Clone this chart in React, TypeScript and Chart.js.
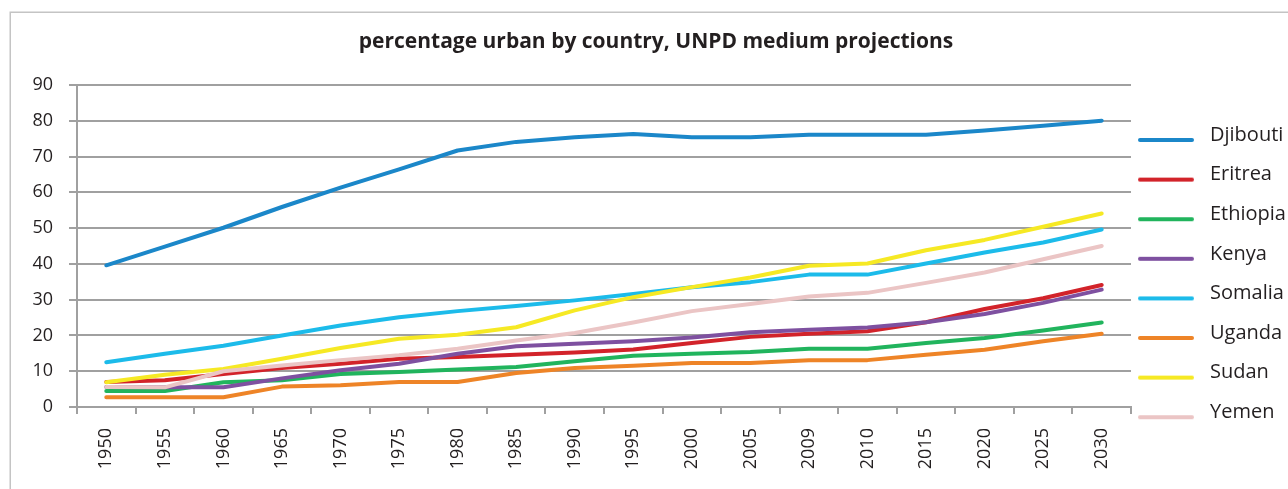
import React, { useEffect, useRef } from 'react';
import { Chart, registerables } from 'chart.js';

Chart.register(...registerables);

const titleText = 'percentage urban by country, UNPD medium projections';

const years = ['1950', '1955', '1960', '1965', '1970', '1975', '1980', '1985', '1990', '1995', '2000', '2005', '2009', '2010', '2015', '2020', '2025', '2030'];

const djibouti = [39.6, 44.8, 50.1, 55.9, 61.3, 66.4, 71.7, 74.1, 75.4, 76.3, 75.4, 75.4, 76.1, 76.1, 76.1, 77.3, 78.6, 80.0];
const eritrea = [7.0, 7.5, 9.2, 10.9, 12.1, 13.5, 14.0, 14.6, 15.2, 16.1, 17.9, 19.6, 20.5, 21.2, 23.7, 27.4, 30.4, 34.1];
const ethiopia = [4.5, 4.5, 6.9, 7.5, 9.2, 9.8, 10.5, 11.2, 12.8, 14.3, 14.9, 15.4, 16.3, 16.3, 17.9, 19.3, 21.4, 23.6];
const kenya = [5.6, 5.5, 5.5, 8.0, 10.3, 12.1, 14.9, 17.0, 17.7, 18.4, 19.4, 20.9, 21.6, 22.2, 23.7, 26.0, 29.1, 32.8];
const somalia = [12.5, 14.9, 17.1, 20.0, 22.8, 25.1, 26.8, 28.2, 29.8, 31.6, 33.5, 34.9, 37.0, 37.0, 40.1, 43.2, 46.0, 49.6];
const uganda = [2.7, 2.7, 2.7, 5.7, 6.1, 7.0, 7.0, 9.5, 10.9, 11.5, 12.3, 12.3, 13.1, 13.1, 14.6, 16.0, 18.4, 20.5];
const sudan = [6.9, 9.0, 10.6, 13.5, 16.5, 19.1, 20.2, 22.3, 27.0, 30.7, 33.5, 36.2, 39.5, 40.1, 43.8, 46.7, 50.4, 54.1];
const yemen = [5.6, 5.5, 10.0, 11.6, 13.1, 14.5, 16.3, 18.6, 20.7, 23.6, 26.8, 28.8, 30.9, 31.9, 34.7, 37.6, 41.3, 45.0];

const seriesNames = ['Djibouti', 'Eritrea', 'Ethiopia', 'Kenya', 'Somalia', 'Uganda', 'Sudan', 'Yemen'];
const seriesValues = [djibouti, eritrea, ethiopia, kenya, somalia, uganda, sudan, yemen];
const seriesColors = ['#1b87c9', '#d2232a', '#21b45d', '#7e50a0', '#1cbbea', '#ee8427', '#f6e924', '#ebc5c5'];

const yMin = 0;
const yMax = 90;
const yStep = 10;

const FONT = "'Open Sans', sans-serif";
const TEXT = '#231f20';
const GRID = '#a0a0a0';

function makeSwatch(color: string) {
  const c = document.createElement('canvas');
  c.width = 62;
  c.height = 20;
  const g = c.getContext('2d')!;
  g.strokeStyle = color;
  g.lineWidth = 4;
  g.lineCap = 'round';
  g.beginPath();
  g.moveTo(2, 15);
  g.lineTo(54, 15);
  g.stroke();
  return c;
}

const framePlugin = {
  id: 'frame',
  beforeDraw(chart: any) {
    const ctx = chart.ctx;
    ctx.save();
    ctx.strokeStyle = '#c4c4c4';
    ctx.lineWidth = 1.5;
    ctx.strokeRect(10.25, 12.25, chart.width + 100, chart.height + 100);
    ctx.restore();
  },
};

export default function App() {
  const ref = useRef<HTMLCanvasElement>(null);

  useEffect(() => {
    const swatches = seriesColors.map(makeSwatch);
    const chart = new Chart(ref.current!, {
      type: 'line',
      data: {
        labels: years,
        datasets: seriesNames.map((name, i) => ({
          label: name,
          data: seriesValues[i],
          borderColor: seriesColors[i],
          backgroundColor: seriesColors[i],
          borderWidth: 4,
          pointRadius: 0,
          pointHoverRadius: 0,
          tension: 0,
          borderCapStyle: 'round',
          borderJoinStyle: 'round',
          fill: false,
          order: seriesNames.length - i,
        })),
      },
      options: {
        responsive: false,
        animation: false,
        layout: { padding: { left: 24, top: 10, right: 0, bottom: 0 } },
        plugins: {
          title: {
            display: true,
            text: titleText,
            color: TEXT,
            font: { family: FONT, size: 21, weight: 'bold', lineHeight: 1.2 },
            padding: { top: 19.4, bottom: 30.4 },
          },
          legend: {
            position: 'right',
            align: 'start',
            maxWidth: 157,
            title: {
              display: true,
              text: '',
              font: { size: 10, lineHeight: 1 },
              padding: { top: 98, bottom: 0 },
            },
            labels: {
              usePointStyle: true,
              pointStyleWidth: 62,
              boxHeight: 20,
              padding: 7,
              color: TEXT,
              font: { family: FONT, size: 20, lineHeight: 1.63 },
              sort: (a: any, b: any) => a.datasetIndex - b.datasetIndex,
              generateLabels: (ch: any) => {
                const items = (Chart.defaults as any).plugins.legend.labels.generateLabels(ch);
                return items.map((it: any) => ({
                  ...it,
                  text: [it.text],
                  pointStyle: swatches[it.datasetIndex],
                  lineWidth: 0,
                }));
              },
            },
          },
          tooltip: { enabled: false },
        },
        scales: {
          x: {
            type: 'category',
            offset: true,
            grid: {
              display: true,
              drawOnChartArea: false,
              drawTicks: true,
              tickLength: 7,
              color: GRID,
              lineWidth: 2,
              offset: true,
            },
            border: { display: true, color: GRID, width: 2 },
            ticks: {
              autoSkip: false,
              minRotation: 90,
              maxRotation: 90,
              padding: 14,
              color: TEXT,
              font: { family: FONT, size: 18 },
            },
            afterFit: (s: any) => {
              s.height = 82;
            },
          },
          y: {
            min: yMin,
            max: yMax,
            grid: { color: GRID, lineWidth: 2, tickLength: 8, drawTicks: true },
            border: { display: true, color: GRID, width: 2 },
            ticks: {
              stepSize: yStep,
              padding: 16,
              color: TEXT,
              font: { family: FONT, size: 18 },
            },
            afterFit: (s: any) => {
              s.width = 53;
            },
          },
        },
      } as any,
      plugins: [framePlugin],
    });
    return () => chart.destroy();
  }, []);

  return (
    <div
      style={{
        position: 'fixed',
        left: 0,
        top: 0,
        width: 1288,
        height: 489,
        overflow: 'hidden',
        background: '#ffffff',
      }}
    >
      <canvas ref={ref} width={1288} height={489} style={{ display: 'block' }} />
    </div>
  );
}
